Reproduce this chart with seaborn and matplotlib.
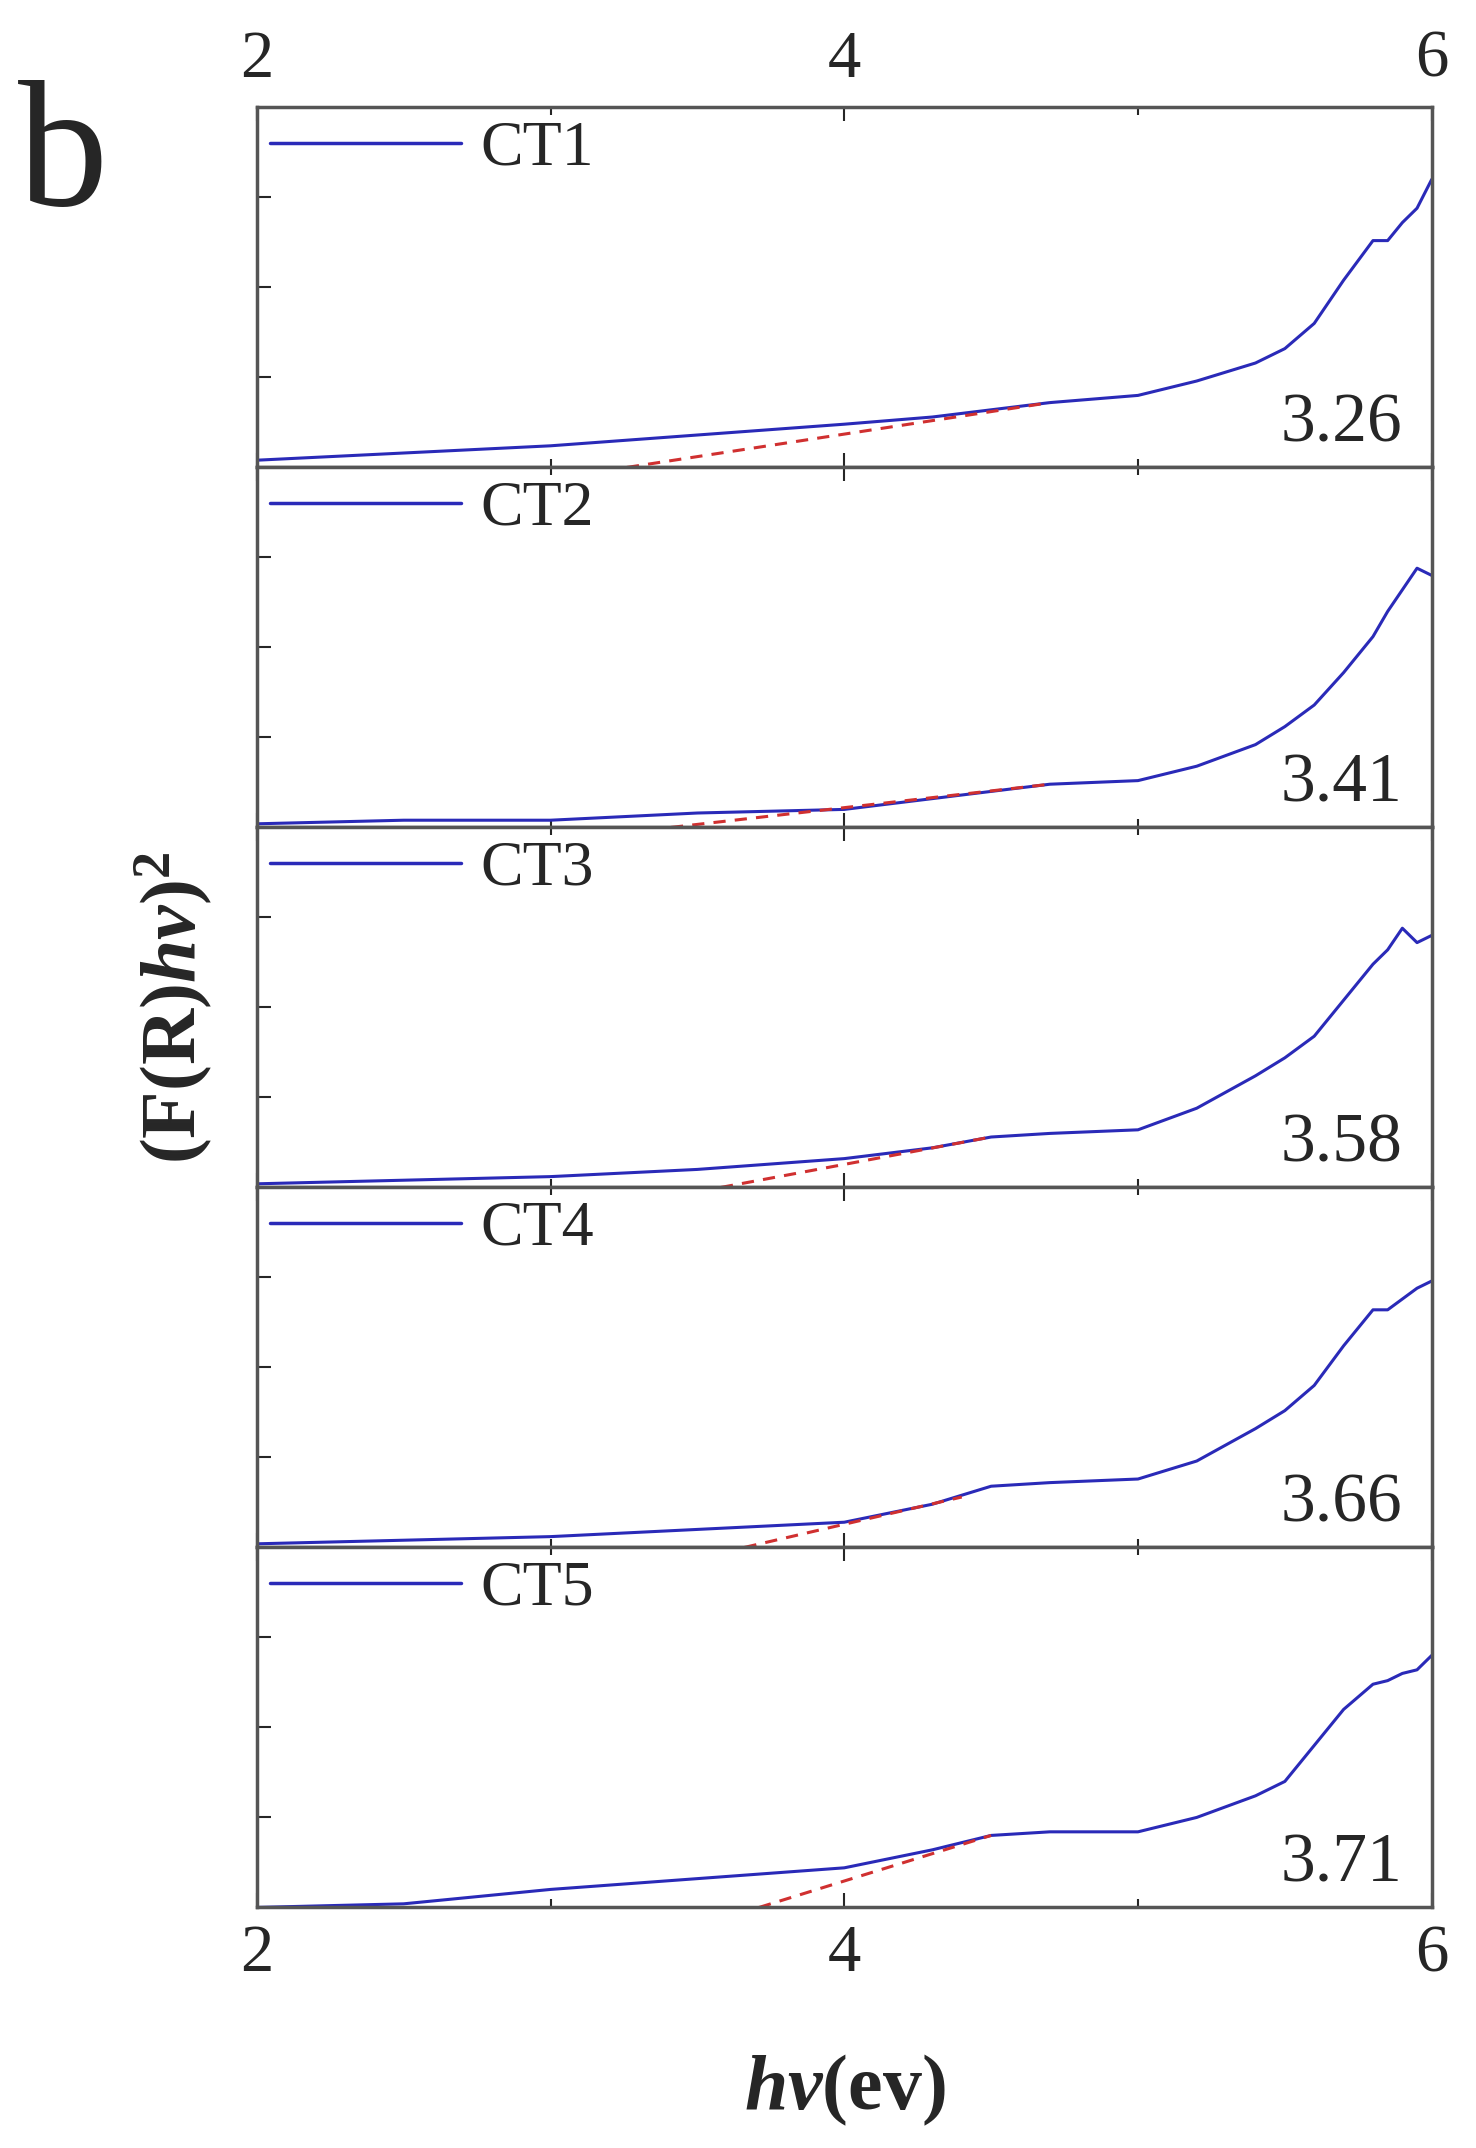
import matplotlib
matplotlib.use("Agg")
import matplotlib.pyplot as plt
import seaborn as sns
import pandas as pd
import numpy as np

sns.set_style("ticks")
plt.rcParams['font.family'] = ['Liberation Serif', 'DejaVu Serif']
plt.rcParams['mathtext.fontset'] = 'custom'
plt.rcParams['mathtext.rm'] = 'Liberation Serif'
plt.rcParams['mathtext.it'] = 'Liberation Serif:italic'
plt.rcParams['mathtext.bf'] = 'Liberation Serif:bold'
plt.rcParams['mathtext.bfit'] = 'Liberation Serif:bold:italic'

names = ["CT1", "CT2", "CT3", "CT4", "CT5"]
gaps = ["3.26", "3.41", "3.58", "3.66", "3.71"]
gap_vals = [3.26, 3.41, 3.58, 3.66, 3.71]

x_pts = [2.0, 2.5, 3.0, 3.5, 4.0, 4.3, 4.5, 4.7, 5.0, 5.2, 5.4, 5.5, 5.6, 5.7, 5.8, 5.85, 5.9, 5.95, 6.0]
ct1 = [0.02, 0.04, 0.06, 0.09, 0.12, 0.14, 0.16, 0.18, 0.20, 0.24, 0.29, 0.33, 0.40, 0.52, 0.63, 0.63, 0.68, 0.72, 0.80]
ct2 = [0.01, 0.02, 0.02, 0.04, 0.05, 0.08, 0.10, 0.12, 0.13, 0.17, 0.23, 0.28, 0.34, 0.43, 0.53, 0.60, 0.66, 0.72, 0.70]
ct3 = [0.01, 0.02, 0.03, 0.05, 0.08, 0.11, 0.14, 0.15, 0.16, 0.22, 0.31, 0.36, 0.42, 0.52, 0.62, 0.66, 0.72, 0.68, 0.70]
ct4 = [0.01, 0.02, 0.03, 0.05, 0.07, 0.12, 0.17, 0.18, 0.19, 0.24, 0.33, 0.38, 0.45, 0.56, 0.66, 0.66, 0.69, 0.72, 0.74]
ct5 = [0.00, 0.01, 0.05, 0.08, 0.11, 0.16, 0.20, 0.21, 0.21, 0.25, 0.31, 0.35, 0.45, 0.55, 0.62, 0.63, 0.65, 0.66, 0.70]
fit_end_x = [4.7, 4.7, 4.5, 4.4, 4.5]
fit_end_y = [0.18, 0.12, 0.14, 0.14, 0.20]
series = [ct1, ct2, ct3, ct4, ct5]

fig = plt.figure(figsize=(14.76, 21.48), dpi=100)
left, right, top, bottom = 0.174, 0.970, 0.950, 0.112
h = (top - bottom) / 5
for i in range(5):
    ax = fig.add_axes([left, top - (i + 1) * h, right - left, h])
    df = pd.DataFrame({"x": x_pts, "y": series[i]})
    sns.lineplot(data=df, x="x", y="y", ax=ax, color="#2a2ab8", lw=2.2, label=names[i])
    dfit = pd.DataFrame({"x": [gap_vals[i], fit_end_x[i]], "y": [0.0, fit_end_y[i]]})
    sns.lineplot(data=dfit, x="x", y="y", ax=ax, color="#d03030", lw=2.2, ls=(0, (4, 3)))
    ax.set_xlim(2, 6)
    ax.set_ylim(0, 1)
    ax.set_xlabel("")
    ax.set_ylabel("")
    ax.set_xticks([2, 4, 6])
    ax.set_xticks([3, 5], minor=True)
    ax.set_yticks([0.25, 0.5, 0.75])
    ax.set_yticklabels([])
    ax.tick_params(direction="in", which="both", top=True, length=10, width=1.5, labelsize=48, pad=12)
    ax.tick_params(which="minor", length=6)
    ax.tick_params(axis="x", labelbottom=(i == 4), labeltop=(i == 0))
    for s in ax.spines.values():
        s.set_color("#555555")
        s.set_linewidth(2.5)
    leg = ax.legend(loc="upper left", frameon=False, fontsize=46, handlelength=3.0,
                    borderaxespad=0.0, borderpad=0.2, handletextpad=0.3)
    for ln in leg.get_lines():
        ln.set_linewidth(2.5)
    ax.text(0.975, 0.03, gaps[i], transform=ax.transAxes, ha="right", va="bottom", fontsize=50)

fig.text(0.012, 0.925, "b", fontsize=130, ha="left", va="center")
fig.text(0.118, (top + bottom) / 2, r"$\mathbf{(F(R)}\boldsymbol{hv}\mathbf{)}^{\mathbf{2}}$", rotation=90,
         ha="center", va="center", fontsize=56)
fig.text((left + right) / 2, 0.027, r"$\boldsymbol{hv}\mathbf{(ev)}$", ha="center", va="center", fontsize=56)
fig.savefig("out.png", dpi=100)
